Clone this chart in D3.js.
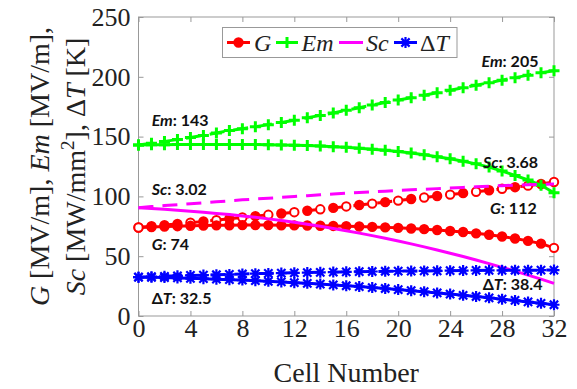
<!DOCTYPE html>
<html>
<head>
<meta charset="utf-8">
<script src="https://cdn.jsdelivr.net/npm/d3@7"></script>
<style>
  body { margin: 0; background: #fff; }
  svg { display: block; }
</style>
</head>
<body>
<div class="chart"></div>
<script>
// cell index 0..32
const cells = [0,1,2,3,4,5,6,7,8,9,10,11,12,13,14,15,16,17,18,19,20,21,22,23,24,25,26,27,28,29,30,31,32];

// G [MV/m]
const gSolid = [74,74.4,74.8,75.1,75.4,75.6,75.8,75.9,76,76,76,75.9,75.8,75.7,75.5,75.3,75.1,74.8,74.5,74.1,73.7,73.2,72.6,71.9,71.1,70.2,69.1,67.9,66.5,64.8,62.8,60.5,57];
const gDash = [74,75,76,77,78,79.1,80.2,81.3,82.4,83.5,84.6,85.7,86.8,88,89.2,90.4,91.6,92.8,94,95.2,96.5,97.8,99.1,100.3,101.5,102.7,103.9,105.1,106.4,107.7,109,110.4,112];
// Em [MV/m]
const emSolid = [143,143.1,143.2,143.3,143.3,143.4,143.4,143.4,143.4,143.3,143.2,143,142.8,142.5,142.1,141.6,141,140.3,139.5,138.6,137.5,136.2,134.8,133.2,131.4,129.4,127.2,124.5,121.2,117.5,113.8,109.3,103];
const emDash = [143,144.5,146,147.5,149.2,151,153,155,156.6,158.3,160,161.8,163.7,165.7,167.7,169.8,172,174.2,176.4,178.5,180.5,182.5,184.6,186.7,188.8,190.9,193,195.1,197.2,199.3,201.4,203.4,205];
// Sc (x30 for display)
const scSolid = [90.6,89.9,89.2,88.4,87.6,86.7,85.8,84.8,83.7,82.5,81.2,79.8,78.3,76.7,75,73.2,71.3,69.3,67.2,65,62.7,60.3,57.8,55.2,52.5,49.7,46.8,43.8,40.7,37.5,34.2,30.8,27.3];
const scDash = [90.6,91.5,92.3,93.1,93.9,94.7,95.5,96.3,97.1,97.8,98.5,99.2,99.9,100.6,101.3,102,102.6,103.2,103.8,104.4,105,105.5,106,106.5,107,107.5,108,108.5,109,109.4,109.8,110.1,110.4];
// Delta T [K]
const dtSolid = [32.5,32.3,32.1,31.8,31.5,31.2,30.8,30.4,30,29.5,29,28.5,27.9,27.3,26.7,26,25.3,24.6,23.8,23,22.1,21.2,20.3,19.3,18.3,17.3,16.3,15.2,14.1,13,11.8,10.6,9.4];
const dtDash = [32.5,32.9,33.2,33.6,33.9,34.2,34.5,34.8,35.1,35.4,35.6,35.9,36.1,36.3,36.5,36.7,36.9,37.1,37.2,37.4,37.5,37.6,37.7,37.8,37.9,38,38.1,38.15,38.2,38.25,38.3,38.35,38.4];

const xTicks = [0,4,8,12,16,20,24,28,32];
const yTicks = [0,50,100,150,200,250];

const outerWidth = 577;
const outerHeight = 389;
const margin = {top:17, left:138.5, bottom:73, right:23};
const width = outerWidth - margin.left - margin.right;
const height = outerHeight - margin.top - margin.bottom;

const svg = d3.select(".chart")
    .append("svg")
    .attr("width", outerWidth)
    .attr("height", outerHeight);

const g = svg.append("g")
    .attr("transform", `translate(${margin.left}, ${margin.top})`);

let xScale = d3.scaleLinear().domain([0, 32]).range([0, width]);
let yScale = d3.scaleLinear().domain([0, 250]).range([height, 0]);

const serif = "'Liberation Serif', 'Times New Roman', serif";
const sans = "Lato, 'Open Sans', sans-serif";

// axes, ticks pointing inwards like matlab
const xAxis = d3.axisBottom(xScale).tickValues(xTicks).tickSizeInner(-5).tickSizeOuter(0).tickPadding(3);
const yAxis = d3.axisLeft(yScale).tickValues(yTicks).tickSizeInner(-5).tickSizeOuter(0).tickPadding(8);
const xTop = d3.axisTop(xScale).tickValues(xTicks).tickSizeInner(-5).tickSizeOuter(0).tickFormat("");
const yRight = d3.axisRight(yScale).tickValues(yTicks).tickSizeInner(-5).tickSizeOuter(0).tickFormat("");

g.append("g").attr("transform", `translate(0, ${height})`).call(xAxis);
g.append("g").call(yAxis);
g.append("g").call(xTop);
g.append("g").attr("transform", `translate(${width}, 0)`).call(yRight);

g.selectAll(".domain").remove();
g.selectAll(".tick line").attr("stroke", "#999");
g.selectAll(".tick text")
    .attr("font-family", serif)
    .attr("font-size", 26)
    .attr("fill", "#222");

g.append("rect")
    .attr("width", width)
    .attr("height", height)
    .attr("fill", "none")
    .attr("stroke", "#999")
    .attr("stroke-width", 1);

const line = d3.line()
    .x((d, i) => xScale(cells[i]))
    .y(d => yScale(d));

function drawLine(vals, color, dashed) {
    g.append("path")
        .datum(vals)
        .attr("fill", "none")
        .attr("stroke", color)
        .attr("stroke-width", 3)
        .attr("stroke-dasharray", dashed ? "15,9" : null)
        .attr("d", line);
}

function circles(vals, openFn) {
    g.append("g").selectAll("circle")
        .data(vals)
        .join("circle")
        .attr("cx", (d, i) => xScale(cells[i]))
        .attr("cy", d => yScale(d))
        .attr("r", 4.2)
        .attr("fill", (d, i) => openFn(i) ? "#fff" : "#ff0000")
        .attr("stroke", "#ff0000")
        .attr("stroke-width", 2);
}

function plus(sel, x, y, s, color) {
    sel.append("path")
        .attr("d", `M${x - s},${y}H${x + s}M${x},${y - s}V${y + s}`)
        .attr("stroke", color)
        .attr("stroke-width", 3);
}

function star(sel, x, y, s, color) {
    const k = s * 0.75;
    sel.append("path")
        .attr("d", `M${x - s},${y}H${x + s}M${x},${y - s}V${y + s}M${x - k},${y - k}L${x + k},${y + k}M${x - k},${y + k}L${x + k},${y - k}`)
        .attr("stroke", color)
        .attr("stroke-width", 2.2);
}

function pluses(vals, color) {
    const grp = g.append("g");
    vals.forEach((d, i) => plus(grp, xScale(cells[i]), yScale(d), 5.5, color));
}

function stars(vals, color) {
    const grp = g.append("g");
    vals.forEach((d, i) => star(grp, xScale(cells[i]), yScale(d), 5.5, color));
}

// G
drawLine(gDash, "#ff0000", true);
circles(gDash, i => i % 2 == 0);
drawLine(gSolid, "#ff0000", false);
circles(gSolid, i => i == 0 || i == 32);

// Em
drawLine(emDash, "#00ff00", true);
pluses(emDash, "#00ff00");
drawLine(emSolid, "#00ff00", false);
pluses(emSolid, "#00ff00");

// Sc
drawLine(scDash, "#ff00ff", true);
drawLine(scSolid, "#ff00ff", false);

// Delta T
drawLine(dtDash, "#0000ff", true);
stars(dtDash, "#0000ff");
drawLine(dtSolid, "#0000ff", false);
stars(dtSolid, "#0000ff");

// value annotations
const notes = [
    {x: 151.7, y: 126, it: "Em", rest: ": 143"},
    {x: 481.5, y: 67, it: "Em", rest: ": 205"},
    {x: 483, y: 168, it: "Sc", rest: ": 3.68"},
    {x: 151.7, y: 195, it: "Sc", rest: ": 3.02"},
    {x: 151.7, y: 250, it: "G", rest: ": 74"},
    {x: 490, y: 214, it: "G", rest: ": 112"},
    {x: 151.7, y: 304, pre: "Δ", it: "T", rest: ": 32.5"},
    {x: 482.7, y: 290, pre: "Δ", it: "T", rest: ": 38.4"}
];
notes.forEach(n => {
    const t = svg.append("text")
        .attr("x", n.x)
        .attr("y", n.y)
        .attr("font-family", sans)
        .attr("font-weight", "bold")
        .attr("font-size", 16)
        .attr("fill", "#111");
    if (n.pre) t.append("tspan").text(n.pre);
    t.append("tspan").attr("font-style", "italic").text(n.it);
    t.append("tspan").text(n.rest);
});

// legend
const legend = svg.append("g");
legend.append("rect")
    .attr("x", 222.5).attr("y", 27.5)
    .attr("width", 234.5).attr("height", 30)
    .attr("fill", "#fff")
    .attr("stroke", "#999");
const ly = 42.5;
const legItems = [
    {x0: 227, x1: 250, tx: 254, color: "#ff0000", mark: "o", label: [["G", true]]},
    {x0: 276, x1: 298, tx: 301.5, color: "#00ff00", mark: "+", label: [["Em", true]]},
    {x0: 339, x1: 363, tx: 366, color: "#ff00ff", mark: null, label: [["Sc", true]]},
    {x0: 394, x1: 417, tx: 420, color: "#0000ff", mark: "*", label: [["Δ", false], ["T", true]]}
];
legItems.forEach(it => {
    legend.append("line")
        .attr("x1", it.x0).attr("x2", it.x1)
        .attr("y1", ly).attr("y2", ly)
        .attr("stroke", it.color).attr("stroke-width", 3);
    const cx = (it.x0 + it.x1) / 2;
    if (it.mark == "o") {
        legend.append("circle").attr("cx", cx).attr("cy", ly).attr("r", 4.2)
            .attr("fill", it.color).attr("stroke", it.color).attr("stroke-width", 2);
    } else if (it.mark == "+") {
        plus(legend, cx, ly, 5.5, it.color);
    } else if (it.mark == "*") {
        star(legend, cx, ly, 5.5, it.color);
    }
    const t = legend.append("text")
        .attr("x", it.tx).attr("y", ly + 8)
        .attr("font-family", serif)
        .attr("font-size", 24)
        .attr("fill", "#222");
    it.label.forEach(p => t.append("tspan").attr("font-style", p[1] ? "italic" : null).text(p[0]));
});

// x axis title
svg.append("text")
    .attr("x", margin.left + width / 2)
    .attr("y", 382)
    .attr("text-anchor", "middle")
    .attr("font-family", serif)
    .attr("font-size", 28)
    .attr("fill", "#222")
    .text("Cell Number");

// y axis title, two lines
const yt = svg.append("g")
    .attr("transform", `translate(0, ${margin.top + height / 2}) rotate(-90)`);
const l1 = yt.append("text")
    .attr("x", 0).attr("y", 49)
    .attr("text-anchor", "middle")
    .attr("font-family", serif)
    .attr("font-size", 28)
    .attr("fill", "#222");
l1.append("tspan").attr("font-style", "italic").text("G");
l1.append("tspan").text(" [MV/m], ");
l1.append("tspan").attr("font-style", "italic").text("Em");
l1.append("tspan").text(" [MV/m],");

const l2 = yt.append("text")
    .attr("x", 0).attr("y", 85)
    .attr("text-anchor", "middle")
    .attr("font-family", serif)
    .attr("font-size", 28)
    .attr("fill", "#222");
l2.append("tspan").attr("font-style", "italic").text("Sc");
l2.append("tspan").text(" [MW/mm");
l2.append("tspan").attr("font-size", 19).attr("dy", -11).text("2");
l2.append("tspan").attr("dy", 11).text("], Δ");
l2.append("tspan").attr("font-style", "italic").text("T");
l2.append("tspan").text(" [K]");
</script>
</body>
</html>
